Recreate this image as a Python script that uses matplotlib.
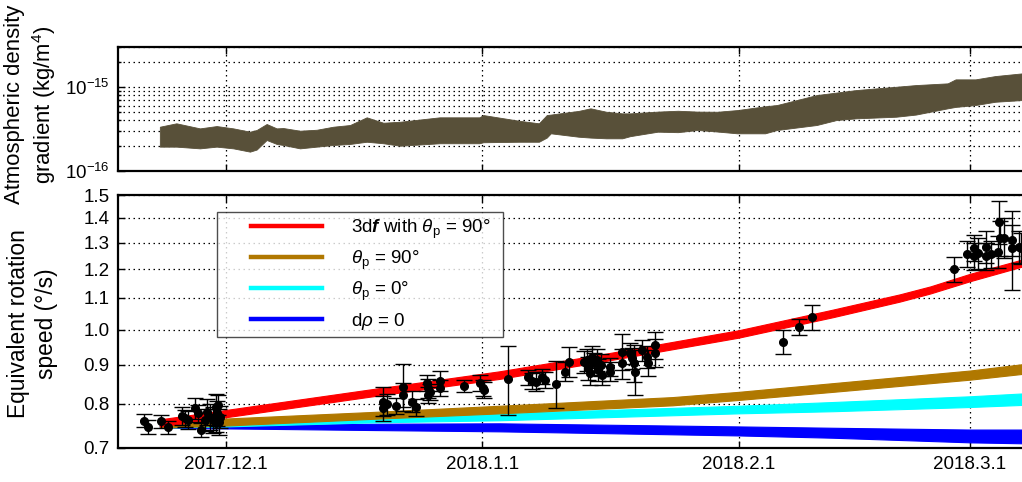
import numpy as np
import pandas as pd
import matplotlib
matplotlib.use("Agg")
import matplotlib.pyplot as plt
from matplotlib.lines import Line2D
from matplotlib.legend_handler import HandlerLine2D
from matplotlib.ticker import FixedLocator, NullLocator, LogLocator, NullFormatter

plt.rcParams['font.family'] = ['Liberation Sans', 'DejaVu Sans']
plt.rcParams['mathtext.fontset'] = 'custom'
plt.rcParams['mathtext.rm'] = 'Liberation Sans'
plt.rcParams['mathtext.it'] = 'Liberation Sans:italic'
plt.rcParams['mathtext.bf'] = 'Liberation Sans:italic:bold'

BASE = pd.Timestamp('2017-12-01')

# ---------------- top panel: density gradient envelope (units of 1e-16 kg/m^4)
dens_days = [-8.0, -6.0, -3.15, -1.13, 0.89, 2.9, 3.71, 4.92, 6.13, 6.93, 8.95, 10.97,
             12.98, 15.0, 17.02, 19.03, 21.05, 25.85, 30.65, 31.12, 35.44, 37.85, 38.8,
             39.29, 42.65, 44.09, 46.0, 47.93, 48.89, 52.24, 54.65, 57.05, 59.45, 61.85,
             65.21, 66.65, 71.45, 73.85, 76.24, 81.05, 83.45, 87.29, 88.25, 90.65, 93.05, 96.3]
dens_upper = [3.37, 3.70, 3.22, 3.43, 3.22, 2.94, 3.08, 3.63, 3.22, 3.25, 3.02, 3.10,
              3.37, 3.53, 4.36, 3.76, 3.86, 4.36, 4.36, 4.64, 3.97, 3.70, 4.64,
              4.70, 5.20, 5.58, 5.08, 4.86, 4.86, 5.10, 5.22, 5.10, 5.08, 5.32,
              5.90, 6.11, 8.03, 8.60, 9.21, 10.08, 10.56, 11.07, 12.35, 12.35, 13.52, 14.56]
dens_lower = [1.95, 1.95, 1.86, 1.95, 1.86, 1.70, 1.80, 2.34, 2.10, 2.04, 1.86, 1.95,
              2.04, 2.10, 2.23, 2.14, 2.00, 2.14, 2.14, 2.20, 2.23, 2.23, 2.50,
              2.81, 2.56, 2.50, 2.45, 2.45, 2.60, 2.94, 2.90, 3.08, 2.95, 2.81,
              2.81, 3.08, 3.53, 4.05, 4.24, 4.43, 4.70, 5.58, 5.80, 6.11, 6.68, 7.00]

# ---------------- bottom panel: model bands (deg/s)
red_days = [-8, 0, 17.4, 33.1, 45.2, 62, 73.4, 81.5, 85.2, 90, 96.3]
red_lo = [0.747, 0.768, 0.817, 0.862, 0.907, 0.976, 1.038, 1.088, 1.115, 1.157, 1.209]
red_hi = [0.763, 0.785, 0.835, 0.882, 0.927, 0.998, 1.062, 1.112, 1.139, 1.183, 1.235]

brown_days = [-8, 0, 17.4, 33.1, 54, 62, 73.4, 90, 96.3]
brown_lo = [0.744, 0.749, 0.764, 0.777, 0.796, 0.809, 0.829, 0.860, 0.875]
brown_hi = [0.760, 0.765, 0.780, 0.795, 0.816, 0.829, 0.851, 0.884, 0.901]

cyan_days = [-8, 0, 17.4, 33.1, 62, 73.4, 90, 96.3]
cyan_lo = [0.744, 0.747, 0.756, 0.761, 0.777, 0.782, 0.792, 0.797]
cyan_hi = [0.752, 0.757, 0.770, 0.777, 0.795, 0.804, 0.818, 0.825]

blue_days = [-8, 2.9, 17.4, 33.1, 62, 73.4, 90, 96.3]
blue_lo = [0.744, 0.742, 0.739, 0.736, 0.727, 0.722, 0.712, 0.710]
blue_hi = [0.752, 0.750, 0.753, 0.754, 0.747, 0.744, 0.740, 0.740]

# ---------------- observations
obs_days = [-9.92, -9.47, -7.90, -6.98, -5.36, -4.96, -4.56, -3.75, -3.35, -3.06,
            -2.54, -2.26, -1.94, -1.54, -1.21, -0.93, -1.05, -0.81, -0.73, -1.21,
            19.03, 19.03, 19.44, 20.53, 21.37, 21.37, 22.46, 22.95, 24.35, 24.47,
            24.68, 24.47, 25.89, 25.89, 28.83, 30.72, 31.04, 31.2,
            34.15, 36.57, 36.98, 37.46, 38.19, 38.59, 39.92, 41.00, 41.49, 43.34,
            43.63, 43.82, 44.03, 44.24, 44.55, 44.84, 45.03, 45.36, 45.52, 46.45,
            46.45, 47.87, 47.87, 48.87, 49.07, 49.39, 49.47, 50.36, 50.89, 51.01,
            51.89, 51.89,
            67.41, 69.35, 70.88,
            88.06, 89.60, 90.52, 90.52, 91.00, 91.93, 91.93, 92.54, 93.42, 93.54,
            93.63, 94.11, 95.04, 95.04, 95.96, 96.13]
obs_vals = [0.760, 0.746, 0.759, 0.745, 0.771, 0.766, 0.762, 0.789, 0.777, 0.739,
            0.762, 0.781, 0.769, 0.762, 0.793, 0.797, 0.777, 0.758, 0.769, 0.754,
            0.805, 0.789, 0.799, 0.795, 0.842, 0.821, 0.805, 0.791, 0.851, 0.838,
            0.829, 0.821, 0.857, 0.838, 0.844, 0.851, 0.838, 0.834,
            0.862, 0.866, 0.857, 0.855, 0.868, 0.859, 0.849, 0.881, 0.908, 0.908,
            0.913, 0.890, 0.877, 0.922, 0.903, 0.913, 0.886, 0.899, 0.872, 0.894,
            0.881, 0.936, 0.903, 0.931, 0.917, 0.905, 0.881, 0.940, 0.922, 0.905,
            0.954, 0.933,
            0.964, 1.008, 1.038,
            1.199, 1.256, 1.280, 1.248, 1.259, 1.284, 1.248, 1.255, 1.265, 1.384,
            1.317, 1.319, 1.310, 1.278, 1.284, 1.278]
obs_errs = [0.015, 0.015, 0.015, 0.015, 0.020, 0.020, 0.020, 0.025, 0.020, 0.015,
            0.025, 0.030, 0.030, 0.030, 0.030, 0.025, 0.030, 0.030, 0.025, 0.020,
            0.035, 0.030, 0.025, 0.020, 0.060, 0.030, 0.025, 0.020, 0.020, 0.025,
            0.020, 0.020, 0.025, 0.020, 0.015, 0.020, 0.020, 0.020,
            0.090, 0.020, 0.020, 0.025, 0.020, 0.020, 0.060, 0.025, 0.040, 0.030,
            0.030, 0.030, 0.030, 0.030, 0.030, 0.030, 0.030, 0.030, 0.025, 0.025,
            0.025, 0.050, 0.040, 0.030, 0.030, 0.050, 0.060, 0.030, 0.030, 0.035,
            0.040, 0.040,
            0.035, 0.025, 0.040,
            0.045, 0.050, 0.050, 0.050, 0.060, 0.060, 0.050, 0.050, 0.060, 0.090,
            0.070, 0.080, 0.060, 0.150, 0.060, 0.060]

tick_dates = ['2017-12-01', '2018-01-01', '2018-02-01', '2018-03-01']
tick_labels = ['2017.12.1', '2018.1.1', '2018.2.1', '2018.3.1']
speed_ticks = [0.7, 0.8, 0.9, 1.0, 1.1, 1.2, 1.3, 1.4, 1.5]
speed_tick_labels = ['0.7', '0.8', '0.9', '1.0', '1.1', '1.2', '1.3', '1.4', '1.5']

legend_labels = ['3d$\\mathbf{f}$ with $\\theta_\\mathrm{p}$ = 90°',
                 '$\\theta_\\mathrm{p}$ = 90°',
                 '$\\theta_\\mathrm{p}$ = 0°',
                 'd$\\rho$ = 0']
colors = ['#ff0000', '#b07800', '#00ffff', '#0000ff']


def to_dates(days):
    return BASE + pd.to_timedelta(np.asarray(days, dtype=float), unit='D')


class ShiftedLineHandler(HandlerLine2D):
    """Legend line that starts some way into the handle box (extra left padding)."""
    def get_xdata(self, legend, xdescent, ydescent, width, height, fontsize):
        x0 = -xdescent + 0.29 * width
        x1 = -xdescent + width
        return np.array([x0, x1]), np.array([(x0 + x1) / 2])


W, H = 1022, 482
fig = plt.figure(figsize=(W / 100, H / 100), dpi=100)
left = 118 / W
width = (1030 - 118) / W
ax1 = fig.add_axes([left, (H - 171) / H, width, (171 - 47) / H])
ax2 = fig.add_axes([left, (H - 448) / H, width, (448 - 195) / H])

xmin = BASE + pd.Timedelta(days=-13.06)
xmax = BASE + pd.Timedelta(days=97.25)

grid_kw = dict(color='black', linestyle=(0, (1.2, 2.8)), linewidth=0.9)
tick_fs = 13.5
label_fs = 16.4

# ---- top panel
ax1.fill_between(to_dates(dens_days), np.array(dens_lower) * 1e-16, np.array(dens_upper) * 1e-16,
                 color='#585039', linewidth=0.6, edgecolor='#585039', zorder=2)
ax1.set_yscale('log')
ax1.set_ylim(1e-16, 3e-15)
ax1.set_xlim(xmin, xmax)
ax1.yaxis.set_major_locator(FixedLocator([1e-16, 1e-15]))
ax1.yaxis.set_minor_locator(LogLocator(base=10, subs=np.arange(2, 10)))
ax1.yaxis.set_minor_formatter(NullFormatter())
ax1.set_xticks(pd.to_datetime(tick_dates))
ax1.set_xticklabels([])
ax1.grid(True, which='major', **grid_kw)
ax1.grid(True, which='minor', axis='y', **grid_kw)
ax1.set_axisbelow(True)
ax1.set_ylabel('Atmospheric density\ngradient (kg/m$^4$)', fontsize=15.9, linespacing=1.25)
ax1.yaxis.set_label_coords(-0.066, 0.535)

# ---- bottom panel
band_sets = [(blue_days, blue_lo, blue_hi, colors[3]),
             (cyan_days, cyan_lo, cyan_hi, colors[2]),
             (brown_days, brown_lo, brown_hi, colors[1]),
             (red_days, red_lo, red_hi, colors[0])]
for i, (d, lo, hi, c) in enumerate(band_sets):
    ax2.fill_between(to_dates(d), lo, hi, color=c, linewidth=0.8, edgecolor=c, zorder=3 + i)

ax2.errorbar(to_dates(obs_days), obs_vals, yerr=obs_errs, fmt='o', color='black',
             markersize=5.5, elinewidth=1.0, capsize=6, capthick=1.0, zorder=10)

ax2.set_yscale('log')
ax2.set_ylim(0.7, 1.5)
ax2.set_xlim(xmin, xmax)
ax2.yaxis.set_major_locator(FixedLocator(speed_ticks))
ax2.yaxis.set_minor_locator(NullLocator())
ax2.set_yticklabels(speed_tick_labels)
ax2.set_xticks(pd.to_datetime(tick_dates))
ax2.set_xticklabels(tick_labels)
ax2.grid(True, which='major', **grid_kw)
ax2.set_axisbelow(True)
ax2.set_ylabel('Equivalent rotation\nspeed (°/s)', fontsize=label_fs, linespacing=1.25)
ax2.yaxis.set_label_coords(-0.066, 0.49)

handles = [Line2D([], [], color=c, linewidth=3.2) for c in colors]
leg = ax2.legend(handles, legend_labels, loc='upper left',
                 bbox_to_anchor=(0.1084, 0.40, 0.3142, 0.5328), mode='expand',
                 handler_map={Line2D: ShiftedLineHandler()},
                 fontsize=tick_fs, frameon=True, fancybox=False, borderpad=0.3,
                 handlelength=5.3, handletextpad=1.55, labelspacing=0.42, borderaxespad=0.0)
leg.get_frame().set_edgecolor('#222222')
leg.get_frame().set_linewidth(1.0)
leg.set_zorder(20)

for ax in (ax1, ax2):
    for s in ax.spines.values():
        s.set_linewidth(1.6)
    ax.tick_params(which='both', direction='in', top=True, right=True,
                   labelsize=tick_fs, width=1.0)
    ax.tick_params(which='major', length=5, pad=6)
    ax.tick_params(which='minor', length=2.5)

fig.savefig('out.png', dpi=100)
